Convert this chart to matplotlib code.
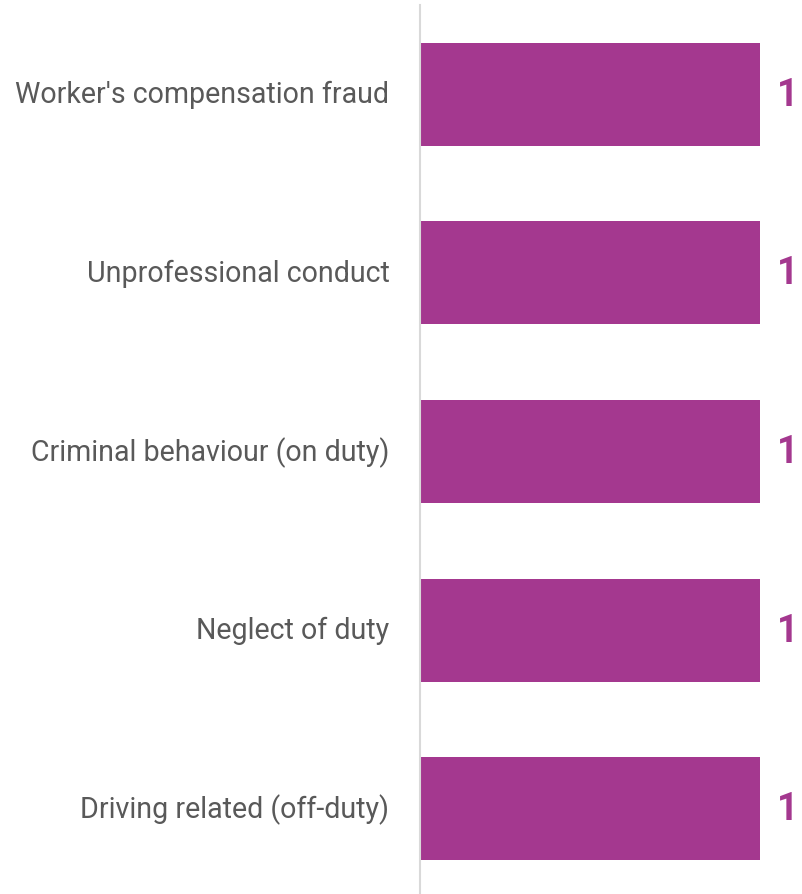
import matplotlib
matplotlib.use("Agg")
import matplotlib.pyplot as plt

categories = ["Worker's compensation fraud", "Unprofessional conduct",
              "Criminal behaviour (on duty)", "Neglect of duty",
              "Driving related (off-duty)"]
values = [1, 1, 1, 1, 1]

bar_color = "#A4388F"
label_color = "#595959"

fig = plt.figure(figsize=(8.02, 8.95), dpi=100)
ax = fig.add_axes([420/802, -4/895, 382/802, 893/895])

ypos = list(range(len(categories)))
ax.barh(ypos, values, height=0.577, color=bar_color)
ax.set_ylim(len(categories) - 0.5, -0.5)
ax.set_xlim(0, 382/340)

ax.set_yticks(ypos)
ax.set_yticklabels(categories, fontsize=20.6, color=label_color, family="Roboto")
ax.tick_params(axis="y", length=0, pad=22)
for t in ax.get_yticklabels():
    t.set_y(t.get_position()[1])
    t.set_verticalalignment("center")
ax.set_xticks([])

for s in ["top", "right", "bottom"]:
    ax.spines[s].set_visible(False)
ax.spines["left"].set_color("#D9D9D9")
ax.spines["left"].set_linewidth(1.5)

for y, v in zip(ypos, values):
    ax.text(v + 17/340, y, str(v), va="center", ha="left", fontsize=27,
            fontweight="bold", color=bar_color, family="Roboto")

fig.savefig("out.png", dpi=100)
